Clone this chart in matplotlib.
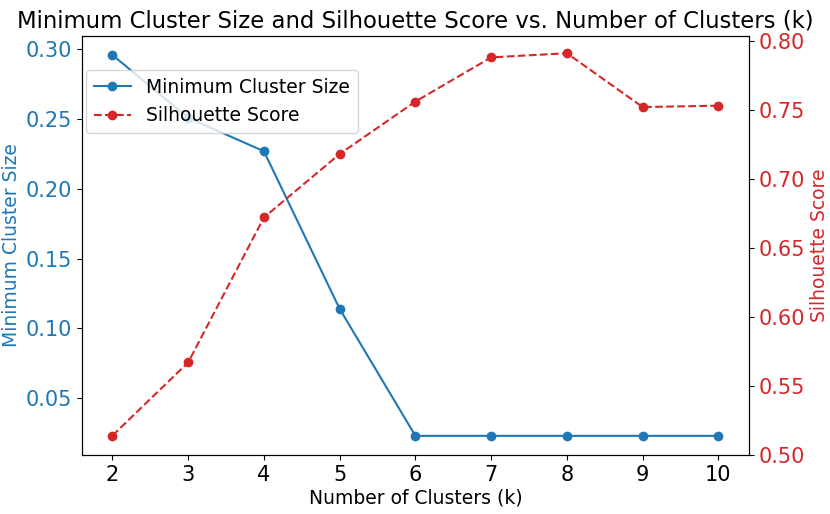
import matplotlib
matplotlib.use("Agg")
import matplotlib.pyplot as plt

k_values = [2, 3, 4, 5, 6, 7, 8, 9, 10]
min_cluster_size = [0.296, 0.251, 0.227, 0.114, 0.023, 0.023, 0.023, 0.023, 0.023]
silhouette = [0.514, 0.567, 0.672, 0.718, 0.756, 0.788, 0.791, 0.752, 0.753]

plt.rcParams["font.size"] = 13.5
plt.rcParams["xtick.labelsize"] = 15
plt.rcParams["ytick.labelsize"] = 15

fig, ax1 = plt.subplots(figsize=(8.3, 5.14), dpi=100)
fig.subplots_adjust(left=0.099, right=0.902, top=0.93, bottom=0.115)

c1 = "tab:blue"
c2 = "tab:red"

l1, = ax1.plot(k_values, min_cluster_size, marker="o", color=c1, label="Minimum Cluster Size")
ax1.set_xlabel("Number of Clusters (k)", labelpad=3)
ax1.set_ylabel("Minimum Cluster Size", color=c1)
ax1.tick_params(axis="y", labelcolor=c1)

ax2 = ax1.twinx()
l2, = ax2.plot(k_values, silhouette, marker="o", linestyle="--", color=c2, label="Silhouette Score")
ax2.set_ylabel("Silhouette Score", color=c2)
ax2.tick_params(axis="y", labelcolor=c2)
ax2.set_ylim(0.5, 0.8035)

ax1.set_title("Minimum Cluster Size and Silhouette Score vs. Number of Clusters (k)", fontsize=16.4)
ax1.legend(handles=[l1, l2], loc="upper left", bbox_to_anchor=(-0.008, 0.94))

fig.savefig("out.png")
